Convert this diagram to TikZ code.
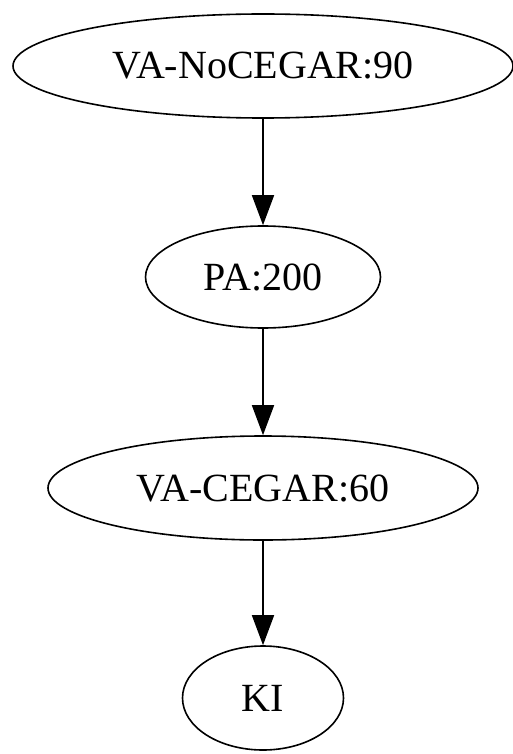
\documentclass[tikz,border=0pt]{standalone}
\usepackage{fontspec}
\setmainfont{Liberation Serif}
\usetikzlibrary{shapes.geometric,arrows.meta}
\begin{document}
\begin{tikzpicture}[x=1pt,y=-1pt,
  gnode/.style={draw,ellipse,line width=1.6pt,inner sep=0pt,font=\fontsize{40}{40}\selectfont},
  garrow/.style={line width=1.6pt,-{Triangle[length=30pt,width=22pt]}}]
\useasboundingbox (0,0) rectangle (513,754);
\node[gnode,minimum width=500pt,minimum height=104pt] (a) at (263,66) {VA-NoCEGAR:90};
\node[gnode,minimum width=235pt,minimum height=102pt] (b) at (263,277) {PA:200};
\node[gnode,minimum width=430pt,minimum height=104pt] (c) at (263,488) {VA-CEGAR:60};
\node[gnode,minimum width=161pt,minimum height=104pt] (d) at (263,698) {KI};
\draw[garrow] (a) -- (b);
\draw[garrow] (b) -- (c);
\draw[garrow] (c) -- (d);
\end{tikzpicture}
\end{document}
